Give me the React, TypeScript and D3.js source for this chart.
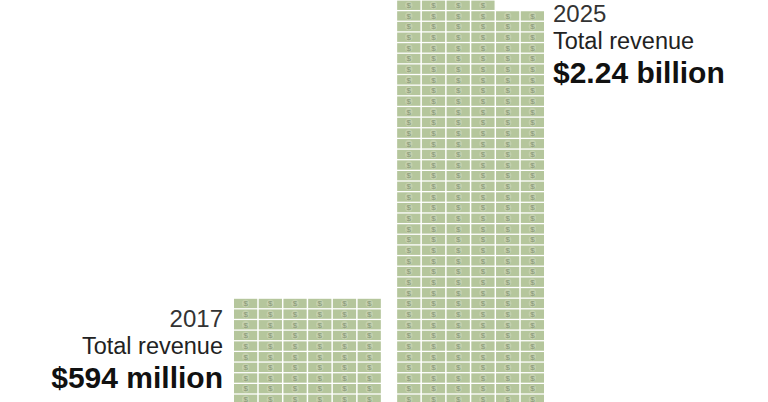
import React, { useEffect, useRef } from "react";
import * as d3 from "d3";

// each bill stands for roughly $10 million
const years = ["2017", "2025"];
const revenueLabels = ["$594 million", "$2.24 billion"];
const billCounts = [60, 226];

const width = 768;
const height = 402;
const cols = 6;
const rowPitch = 10.65;
const baseY = 405.3;

const App = () => {
  const ref = useRef<SVGSVGElement>(null);

  useEffect(() => {
    const svg = d3.select(ref.current);
    svg.selectAll("*").remove();

    const xStack = d3
      .scaleBand<string>()
      .domain(years)
      .range([234, 544])
      .paddingInner(0.1)
      .paddingOuter(0);

    const xCol = d3
      .scaleBand<number>()
      .domain(d3.range(cols))
      .range([0, xStack.bandwidth()])
      .paddingInner(0.06);

    const maxRows = Math.ceil((d3.max(billCounts) as number) / cols);
    const yRow = d3
      .scaleLinear()
      .domain([0, maxRows])
      .range([baseY, baseY - maxRows * rowPitch]);

    const bills = years.flatMap((year, s) =>
      d3.range(billCounts[s]).map((i) => ({
        year,
        col: i % cols,
        row: Math.floor(i / cols),
      }))
    );

    const billH = rowPitch - 1.3;
    const billW = xCol.bandwidth();

    const g = svg
      .append("g")
      .selectAll("g.bill")
      .data(bills)
      .enter()
      .append("g")
      .attr("class", "bill")
      .attr(
        "transform",
        (d) => `translate(${xStack(d.year)! + xCol(d.col)!},${yRow(d.row + 1)})`
      );

    g.append("rect")
      .attr("width", billW)
      .attr("height", billH)
      .attr("fill", "#b5c69c");

    g.append("circle")
      .attr("cx", billW / 2)
      .attr("cy", billH / 2)
      .attr("r", 3.7)
      .attr("fill", "#c4d0ae");

    g.append("text")
      .attr("x", billW / 2)
      .attr("y", billH / 2 + 2.8)
      .attr("text-anchor", "middle")
      .attr("font-size", "8px")
      .attr("font-family", "'Liberation Sans', Arial, sans-serif")
      .attr("fill", "#879776")
      .text("$");

    // labels: left of first stack, right of second stack
    const labelTop = [327, 22];
    years.forEach((year, s) => {
      const right = s === 1;
      const x = right ? xStack(year)! + xStack.bandwidth() + 9 : xStack(year)! - 11;
      const y0 = labelTop[s];
      const lg = svg
        .append("g")
        .attr("font-family", "'Liberation Sans', Arial, sans-serif")
        .attr("text-anchor", right ? "start" : "end");
      lg.append("text")
        .attr("x", x)
        .attr("y", y0)
        .attr("font-size", "24px")
        .attr("fill", "#333")
        .text(year);
      lg.append("text")
        .attr("x", x)
        .attr("y", y0 + 27)
        .attr("font-size", "23.5px")
        .attr("fill", "#222")
        .text("Total revenue");
      lg.append("text")
        .attr("x", x)
        .attr("y", y0 + 61)
        .attr("font-size", "30px")
        .attr("font-weight", "bold")
        .attr("fill", "#111")
        .text(revenueLabels[s]);
    });
  }, []);

  return (
    <svg
      ref={ref}
      width={width}
      height={height}
      style={{ position: "absolute", left: 0, top: 0, background: "#fff" }}
    />
  );
};

export default App;
